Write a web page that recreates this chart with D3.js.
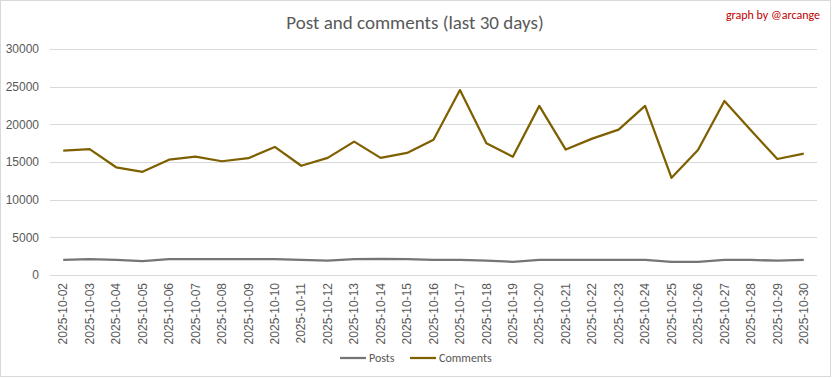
<!DOCTYPE html>
<html lang="en">
<head>
    <meta charset="UTF-8">
    <title>Post and comments (last 30 days)</title>
    <script src="https://cdn.jsdelivr.net/npm/d3@7"></script>
    <style>
        body { margin: 0; background: white; }
        svg { display: block; font-family: Carlito, "Liberation Sans Narrow", "Open Sans", sans-serif; }
        .grid line { stroke: #d9d9d9; }
        .tick text { fill: #595959; }
    </style>
</head>
<body>
<svg></svg>
<script>
    // DATA
    const dates = [
        "2025-10-02", "2025-10-03", "2025-10-04", "2025-10-05", "2025-10-06", "2025-10-07",
        "2025-10-08", "2025-10-09", "2025-10-10", "2025-10-11", "2025-10-12", "2025-10-13",
        "2025-10-14", "2025-10-15", "2025-10-16", "2025-10-17", "2025-10-18", "2025-10-19",
        "2025-10-20", "2025-10-21", "2025-10-22", "2025-10-23", "2025-10-24", "2025-10-25",
        "2025-10-26", "2025-10-27", "2025-10-28", "2025-10-29", "2025-10-30"
    ];
    const posts = [
        2000, 2100, 2000, 1850, 2100, 2100, 2100, 2100, 2100, 2000,
        1900, 2100, 2150, 2100, 2000, 2000, 1900, 1750, 2000, 2000,
        2000, 2000, 2000, 1750, 1750, 2000, 2000, 1900, 2000
    ];
    const comments = [
        16500, 16700, 14300, 13700, 15300, 15700, 15100, 15500, 17000, 14500,
        15550, 17700, 15550, 16200, 17950, 24550, 17500, 15700, 22450, 16650,
        18100, 19300, 22450, 12900, 16600, 23100, 19200, 15400, 16100
    ];
    const yTicks = [0, 5000, 10000, 15000, 20000, 25000, 30000];

    const series = [
        {name: "Posts", values: posts, color: "#757575"},
        {name: "Comments", values: comments, color: "#7f6000"}
    ];

    // CHART dimensions
    const dim = {width: 832, height: 378};
    const plot = {left: 50, right: 817, top: 49, bottom: 275};

    const svg = d3.select("svg")
        .attr("width", dim.width)
        .attr("height", dim.height);

    // chart frame
    svg.append("rect")
        .attr("x", 0.5).attr("y", 0.5)
        .attr("width", 830).attr("height", 376)
        .attr("fill", "white")
        .attr("stroke", "#d9d9d9");

    // SCALES
    const x = d3.scaleBand()
        .domain(dates)
        .range([plot.left, plot.right]);
    const y = d3.scaleLinear()
        .domain([0, 30000])
        .range([plot.bottom, plot.top]);

    // gridlines
    svg.append("g")
        .attr("class", "grid")
        .selectAll("line")
        .data(yTicks)
        .join("line")
            .attr("x1", plot.left).attr("x2", plot.right)
            .attr("y1", d => Math.round(y(d)) + 0.5)
            .attr("y2", d => Math.round(y(d)) + 0.5);

    // y axis labels
    const yAxis = d3.axisLeft(y).tickValues(yTicks).tickSize(0).tickPadding(11).tickFormat(d3.format("d"));
    svg.append("g")
        .attr("transform", `translate(${plot.left},0)`)
        .call(yAxis)
        .call(g => g.select(".domain").remove())
        .selectAll("text")
            .attr("font-size", 12)
            .attr("font-family", null);

    // x axis labels, rotated
    const xAxis = d3.axisBottom(x).tickSize(0).tickPadding(0);
    svg.append("g")
        .attr("transform", `translate(0,${plot.bottom})`)
        .call(xAxis)
        .call(g => g.select(".domain").remove())
        .selectAll("text")
            .attr("font-size", 12)
            .attr("font-family", null)
            .attr("transform", "rotate(-90)")
            .attr("text-anchor", "end")
            .attr("dy", "0.35em")
            .attr("x", -8)
            .attr("y", 0);

    // LINES
    const line = d3.line()
        .x((d, i) => x(dates[i]) + x.bandwidth() / 2)
        .y(d => y(d));

    svg.append("g")
        .selectAll("path")
        .data(series)
        .join("path")
            .attr("d", d => line(d.values))
            .attr("fill", "none")
            .attr("stroke", d => d.color)
            .attr("stroke-width", 2.25)
            .attr("stroke-linejoin", "round");

    // TITLE
    svg.append("text")
        .attr("x", 415).attr("y", 29)
        .attr("text-anchor", "middle")
        .attr("font-size", 19)
        .attr("fill", "#595959")
        .text("Post and comments (last 30 days)");

    svg.append("text")
        .attr("x", 820).attr("y", 19)
        .attr("text-anchor", "end")
        .attr("font-size", 12)
        .attr("fill", "#c00000")
        .text("graph by @arcange");

    // LEGEND
    const legend = svg.append("g").attr("transform", "translate(340,358)");
    const items = legend.selectAll("g")
        .data(series)
        .join("g")
            .attr("transform", (d, i) => `translate(${i * 70},0)`);
    items.append("line")
        .attr("x1", 0).attr("x2", 26)
        .attr("stroke", d => d.color)
        .attr("stroke-width", 2.25);
    items.append("text")
        .attr("x", 29).attr("dy", "0.35em")
        .attr("font-size", 12)
        .attr("fill", "#595959")
        .text(d => d.name);
</script>
</body>
</html>
